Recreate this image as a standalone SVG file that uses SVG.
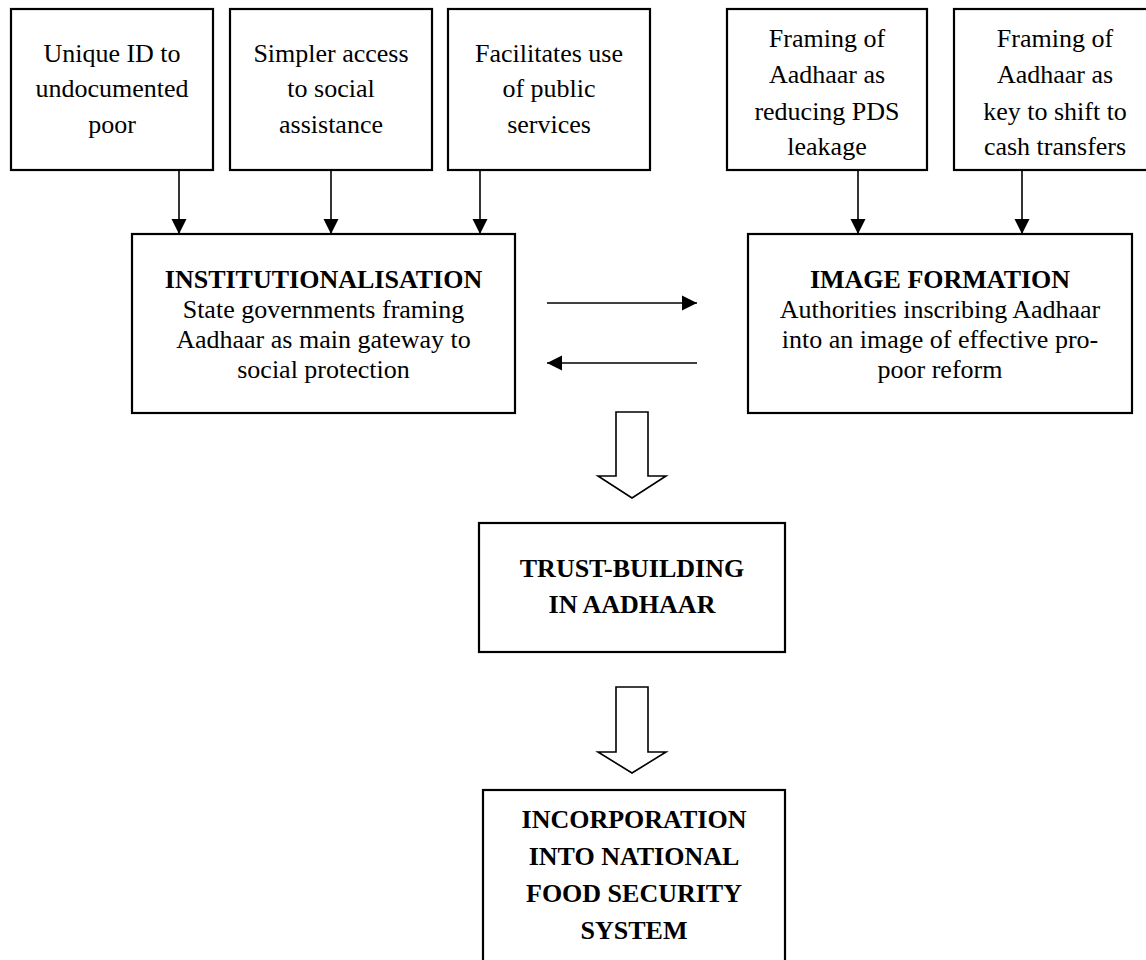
<svg xmlns="http://www.w3.org/2000/svg" width="1146" height="960" viewBox="0 0 1146 960">
<defs>
<marker id="ah" markerUnits="userSpaceOnUse" markerWidth="16" markerHeight="16" refX="15" refY="8" orient="auto">
<path d="M0,0.5 L15,8 L0,15.5 Z" fill="#000"/>
</marker>
<style>
.box{fill:#fff;stroke:#000;stroke-width:2.2}
.t{font-family:"Liberation Serif","Times New Roman",serif;font-size:26px;fill:#000;text-anchor:middle}
.b{font-weight:bold}
.c{stroke:#000;stroke-width:1.6;fill:none}
.blk{fill:#fff;stroke:#000;stroke-width:1.6;stroke-linejoin:miter}
</style>
</defs>
<rect width="1146" height="960" fill="#fff"/>

<g id="node-unique-id">
<rect class="box" x="11" y="9" width="202" height="161"/>
<text class="t" x="112" y="62">Unique ID to</text>
<text class="t" x="112" y="97">undocumented</text>
<text class="t" x="112" y="133">poor</text>
</g>
<g id="node-simpler-access">
<rect class="box" x="230" y="9" width="202" height="161"/>
<text class="t" x="331" y="62">Simpler access</text>
<text class="t" x="331" y="97">to social</text>
<text class="t" x="331" y="133">assistance</text>
</g>
<g id="node-public-services">
<rect class="box" x="448" y="9" width="202" height="161"/>
<text class="t" x="549" y="62">Facilitates use</text>
<text class="t" x="549" y="97">of public</text>
<text class="t" x="549" y="133">services</text>
</g>
<g id="node-pds-leakage">
<rect class="box" x="727" y="9" width="200" height="161"/>
<text class="t" x="827" y="47">Framing of</text>
<text class="t" x="827" y="83">Aadhaar as</text>
<text class="t" x="827" y="120">reducing PDS</text>
<text class="t" x="827" y="155">leakage</text>
</g>
<g id="node-cash-transfers">
<rect class="box" x="954" y="9" width="202" height="161"/>
<text class="t" x="1055" y="47">Framing of</text>
<text class="t" x="1055" y="83">Aadhaar as</text>
<text class="t" x="1055" y="120">key to shift to</text>
<text class="t" x="1055" y="155">cash transfers</text>
</g>

<g id="node-institutionalisation">
<rect class="box" x="132" y="234" width="383" height="179"/>
<text class="t b" x="323.5" y="288">INSTITUTIONALISATION</text>
<text class="t" x="323.5" y="318">State governments framing</text>
<text class="t" x="323.5" y="348">Aadhaar as main gateway to</text>
<text class="t" x="323.5" y="378">social protection</text>
</g>
<g id="node-image-formation">
<rect class="box" x="748" y="234" width="384" height="179"/>
<text class="t b" x="940" y="288">IMAGE FORMATION</text>
<text class="t" x="940" y="318">Authorities inscribing Aadhaar</text>
<text class="t" x="940" y="348">into an image of effective pro-</text>
<text class="t" x="940" y="378">poor reform</text>
</g>

<g id="node-trust-building">
<rect class="box" x="479" y="523" width="306" height="129"/>
<text class="t b" x="632" y="577">TRUST-BUILDING</text>
<text class="t b" x="632" y="613">IN AADHAAR</text>
</g>

<g id="node-incorporation">
<rect class="box" x="483" y="790" width="302" height="190"/>
<text class="t b" x="634" y="828">INCORPORATION</text>
<text class="t b" x="634" y="865">INTO NATIONAL</text>
<text class="t b" x="634" y="902">FOOD SECURITY</text>
<text class="t b" x="634" y="939">SYSTEM</text>
</g>

<g id="connectors">
<line class="c" x1="179" y1="170" x2="179" y2="234" marker-end="url(#ah)"/>
<line class="c" x1="331" y1="170" x2="331" y2="234" marker-end="url(#ah)"/>
<line class="c" x1="480" y1="170" x2="480" y2="234" marker-end="url(#ah)"/>
<line class="c" x1="858" y1="170" x2="858" y2="234" marker-end="url(#ah)"/>
<line class="c" x1="1022" y1="170" x2="1022" y2="234" marker-end="url(#ah)"/>
<line class="c" x1="547" y1="303" x2="697" y2="303" marker-end="url(#ah)"/>
<line class="c" x1="697" y1="363" x2="547" y2="363" marker-end="url(#ah)"/>
<polygon class="blk" points="616,412 648,412 648,476 666,476 632,498 598,476 616,476"/>
<polygon class="blk" points="616,687 648,687 648,752 666,752 632,773 598,752 616,752"/>
</g>
</svg>
